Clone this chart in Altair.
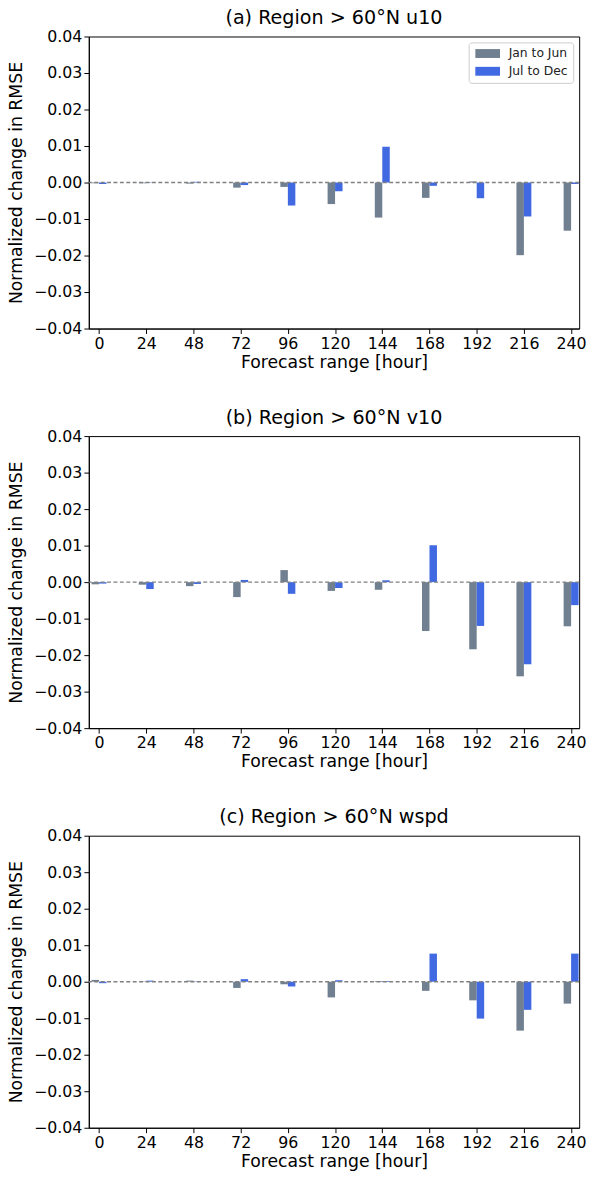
import altair as alt
import pandas as pd

hours = [0, 24, 48, 72, 96, 120, 144, 168, 192, 216, 240]
series_names = ["Jan to Jun", "Jul to Dec"]
panel_titles = ["(a) Region > 60°N u10", "(b) Region > 60°N v10", "(c) Region > 60°N wspd"]
y_ticks = [-0.04, -0.03, -0.02, -0.01, 0.0, 0.01, 0.02, 0.03, 0.04]

u10_jan = [-0.0002, -0.0002, -0.0003, -0.0014, -0.0012, -0.0059, -0.0096, -0.0042, 0.0003, -0.0199, -0.0132]
u10_jul = [-0.0004, -0.0001, 0.0002, -0.0007, -0.0063, -0.0024, 0.0098, -0.0009, -0.0043, -0.0093, -0.0004]

v10_jan = [-0.0006, -0.0007, -0.0011, -0.0041, 0.0033, -0.0024, -0.0021, -0.0134, -0.0184, -0.0258, -0.0121]
v10_jul = [-0.0004, -0.0019, -0.0005, 0.0006, -0.0032, -0.0016, 0.0005, 0.0101, -0.0120, -0.0225, -0.0063]

wspd_jan = [0.0005, 0.0001, 0.0003, -0.0017, -0.0007, -0.0043, 0.0002, -0.0025, -0.0051, -0.0134, -0.0060]
wspd_jul = [-0.0004, 0.0003, 0.0001, 0.0007, -0.0013, 0.0004, 0.0002, 0.0077, -0.0101, -0.0077, 0.0077]

panel_series = [(u10_jan, u10_jul), (v10_jan, v10_jul), (wspd_jan, wspd_jul)]

BAR_W = 3.8
FONT = "DejaVu Sans"
colors = ["#708090", "#4169E1"]

y_scale = alt.Scale(domain=[-0.04, 0.04], nice=False)
y_axis = alt.Axis(values=y_ticks, format=".2f", title="Normalized change in RMSE",
                  grid=False, labelOverlap=False, tickCount=9)
x_scale = alt.Scale(domain=[-5.2, 244.1], nice=False, zero=False)
x_axis = alt.Axis(values=hours, format="d", title="Forecast range [hour]",
                  grid=False, labelOverlap=False)

panels = []
for idx, (title, (jan, jul)) in enumerate(zip(panel_titles, panel_series)):
    rows = []
    for h, a, b in zip(hours, jan, jul):
        rows.append({"hour": h, "series": series_names[0], "value": a})
        rows.append({"hour": h, "series": series_names[1], "value": b})
    df = pd.DataFrame(rows)

    bars = alt.Chart(df).mark_rect().transform_calculate(
        x0=f"datum.series == '{series_names[0]}' ? datum.hour - {BAR_W} : datum.hour",
        x1=f"datum.series == '{series_names[0]}' ? datum.hour : datum.hour + {BAR_W}",
    ).encode(
        x=alt.X("x0:Q", scale=x_scale, axis=x_axis),
        x2="x1:Q",
        y=alt.Y("value:Q", scale=y_scale, axis=y_axis),
        y2=alt.datum(0),
        color=alt.Color("series:N",
                        scale=alt.Scale(domain=series_names, range=colors),
                        legend=alt.Legend(title=None, orient="top-right")),
    )
    zero = alt.Chart(pd.DataFrame({"z": [0]})).mark_rule(
        color="#808080", strokeDash=[4, 2.5], strokeWidth=1.5
    ).encode(y=alt.Y("z:Q", scale=y_scale, axis=y_axis))

    panel = alt.layer(bars, zero).properties(
        width=497, height=296,
        title=alt.TitleParams(title, fontSize=19.4, font=FONT, fontWeight="normal",
                              offset=0, color="black"),
    )
    panels.append(panel)

chart = alt.vconcat(*panels, spacing=37).configure_view(
    stroke="black", strokeWidth=1
).configure_axis(
    labelFont=FONT, titleFont=FONT, labelFontSize=16, titleFontSize=17.5,
    titleFontWeight="normal", labelColor="black", titleColor="black",
    domainColor="black", tickColor="black", tickSize=5, labelPadding=2,
).configure_axisY(titlePadding=8).configure_axisX(titlePadding=2).configure_legend(
    labelFont=FONT, labelFontSize=12.5, labelColor="#222",
    symbolType="M-1,-1H4.56V1H-1Z", symbolSize=81, symbolStrokeWidth=0,
    labelOffset=23, fillColor="white", strokeColor="#cccccc", cornerRadius=3,
    padding=5, offset=6, rowPadding=5, symbolOpacity=1,
).properties(padding={"left": 7, "top": 0, "right": 5, "bottom": 5})

chart.save("out.html", embed_options={"renderer": "svg", "actions": False})
